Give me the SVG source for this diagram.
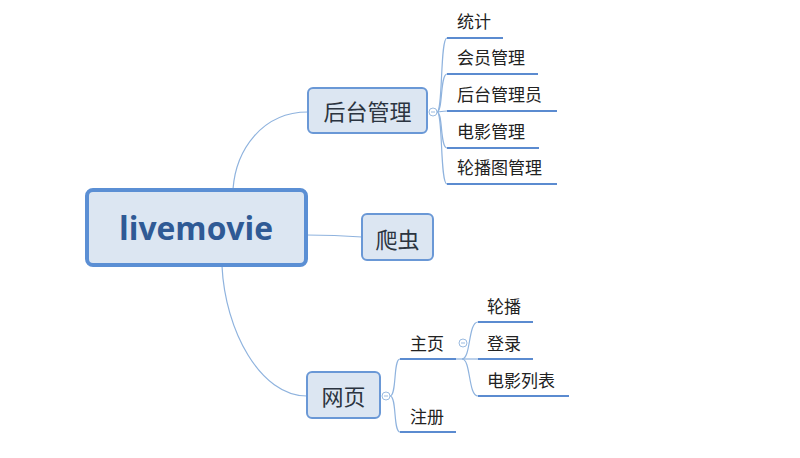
<svg xmlns="http://www.w3.org/2000/svg" width="800" height="458" viewBox="0 0 800 458">
<style>
.conn{fill:none;stroke:#8fb3de;stroke-width:1.2}
.ul{stroke:#5b8bd0;stroke-width:2.2;fill:none}
.box{fill:#dce6f2;stroke:#6a98d6;stroke-width:2}
.bt{font-family:"Noto Sans CJK SC","Noto Sans",sans-serif;font-size:22px;fill:#2b3440;text-anchor:middle}
.st{font-family:"Noto Sans CJK SC","Noto Sans",sans-serif;font-size:17px;fill:#222}
.fold{fill:#fff;stroke:#9bbbe0;stroke-width:1}
</style>
<rect width="800" height="458" fill="#fff"/>
<g id="connectors">
<path class="conn" d="M233,189 C236,150 262,112 308,112"/>
<path class="conn" d="M306,235 Q335,235 362,237"/>
<path class="conn" d="M222,266 C225,330 260,396 307,396"/>
<path class="conn" d="M437,112 C443,112 440,38 447,38"/>
<path class="conn" d="M437,112 C443,112 440,74 447,74"/>
<path class="conn" d="M437,112 C443,112 440,111 447,111"/>
<path class="conn" d="M437,112 C443,112 440,148 447,148"/>
<path class="conn" d="M437,112 C443,112 440,184 447,184"/>
<path class="conn" d="M390,396 C397,396 393,359 400,359"/>
<path class="conn" d="M390,396 C397,396 393,432 400,432"/>
<path class="conn" d="M456,359 L478,359"/>
<path class="conn" d="M462,359 C471,359 468,322 478,322"/>
<path class="conn" d="M462,359 C471,359 468,396 478,396"/>
</g>
<g id="root">
<rect x="87" y="190" width="219" height="75" rx="6" fill="#dce6f2" stroke="#5b8fd4" stroke-width="4"/>
<text x="196" y="240" font-family="'Open Sans','Noto Sans',sans-serif" font-weight="bold" font-size="32" fill="#2f5a95" text-anchor="middle" textLength="154" lengthAdjust="spacingAndGlyphs">livemovie</text>
</g>
<g id="houtai">
<rect class="box" x="308" y="88" width="119" height="45" rx="5"/>
<text class="bt" x="367.5" y="120">后台管理</text>
<circle class="fold" cx="433" cy="112" r="4"/>
<line x1="431" y1="112" x2="435" y2="112" stroke="#9bbbe0" stroke-width="1"/>
</g>
<g id="tongji"><text class="st" x="457" y="28">统计</text><line class="ul" x1="447" y1="38" x2="503" y2="38"/></g>
<g id="huiyuan"><text class="st" x="457" y="64">会员管理</text><line class="ul" x1="447" y1="74" x2="538" y2="74"/></g>
<g id="guanliyuan"><text class="st" x="457" y="101">后台管理员</text><line class="ul" x1="447" y1="111" x2="557" y2="111"/></g>
<g id="dianying"><text class="st" x="457" y="138">电影管理</text><line class="ul" x1="447" y1="148" x2="539" y2="148"/></g>
<g id="lunbotu"><text class="st" x="457" y="174">轮播图管理</text><line class="ul" x1="447" y1="184" x2="557" y2="184"/></g>
<g id="pachong">
<rect class="box" x="362" y="214" width="71" height="46" rx="5"/>
<text class="bt" x="397.5" y="248">爬虫</text>
</g>
<g id="wangye">
<rect class="box" x="307" y="372" width="73" height="46" rx="5"/>
<text class="bt" x="343.5" y="405">网页</text>
<circle class="fold" cx="386" cy="396" r="4"/>
<line x1="384" y1="396" x2="388" y2="396" stroke="#9bbbe0" stroke-width="1"/>
</g>
<g id="zhuye"><text class="st" x="410" y="350">主页</text><line class="ul" x1="400" y1="359" x2="456" y2="359"/>
<circle class="fold" cx="463" cy="343" r="4"/>
<line x1="461" y1="343" x2="465" y2="343" stroke="#9bbbe0" stroke-width="1"/>
</g>
<g id="zhuce"><text class="st" x="410" y="423">注册</text><line class="ul" x1="400" y1="432" x2="456" y2="432"/></g>
<g id="lunbo"><text class="st" x="487" y="313">轮播</text><line class="ul" x1="478" y1="322" x2="533" y2="322"/></g>
<g id="denglu"><text class="st" x="487" y="350">登录</text><line class="ul" x1="478" y1="359" x2="533" y2="359"/></g>
<g id="liebiao"><text class="st" x="487" y="387">电影列表</text><line class="ul" x1="478" y1="396" x2="569" y2="396"/></g>
</svg>
